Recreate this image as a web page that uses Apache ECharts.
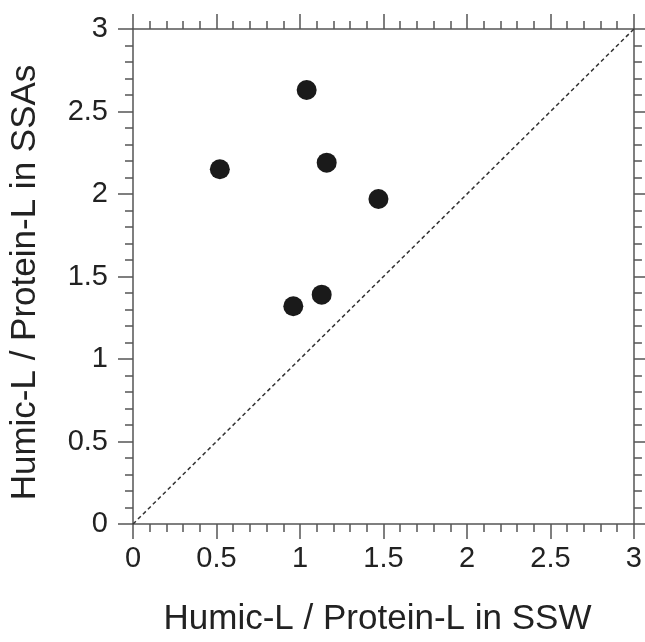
<!DOCTYPE html>
<html>
<head>
<meta charset="utf-8">
<script src="https://cdn.jsdelivr.net/npm/echarts@6/dist/echarts.min.js"></script>
<style>
  html, body { margin: 0; padding: 0; background: #fff; }
  #chart { width: 645px; height: 642px; }
</style>
</head>
<body>
<div id="chart"></div>
<script>
var ssw = [1.04, 0.52, 1.16, 1.47, 1.13, 0.96];
var ssa = [2.63, 2.15, 2.19, 1.97, 1.39, 1.32];
var oneToOne = [[0, 0], [3, 3]];
var xTitle = 'Humic-L / Protein-L in SSW';
var yTitle = 'Humic-L / Protein-L in SSAs';

var points = ssw.map(function(x, i) { return [x, ssa[i]]; });

var chart = echarts.init(document.getElementById('chart'));

var font = 'Liberation Sans, Arial, sans-serif';
var axisColor = '#555';

function axis(pos, withLabels, title, gap, rotate) {
    return {
        type: 'value',
        position: pos,
        min: 0,
        max: 3,
        interval: 0.5,
        name: title || '',
        nameLocation: 'middle',
        nameGap: gap || 0,
        nameRotate: rotate,
        // extra right padding nudges the title a little off-centre, as in the original
        nameTextStyle: { fontFamily: font, fontSize: 35, color: '#222', padding: [0, 12, 0, 0] },
        axisLine: { show: true, onZero: false, lineStyle: { color: axisColor, width: 1.5 } },
        axisTick: { show: true, inside: false, length: 15, lineStyle: { color: axisColor, width: 1.5 } },
        minorTick: { show: true, splitNumber: 5, length: 8, lineStyle: { color: axisColor, width: 1.5 } },
        axisLabel: {
            show: withLabels,
            fontFamily: font,
            fontSize: 29,
            color: '#222',
            margin: pos === 'bottom' ? 20 : 25
        },
        splitLine: { show: false }
    };
}

var option = {
    animation: false,
    grid: { left: 133, top: 29, width: 501, height: 501 },
    xAxis: [
        axis('bottom', true, xTitle, 78),
        axis('top', false)
    ],
    yAxis: [
        axis('left', true, yTitle, 90, 90),
        axis('right', false)
    ],
    series: [
        {
            type: 'line',
            data: oneToOne,
            symbol: 'none',
            lineStyle: { color: '#333', width: 1.5, type: [4, 3] },
            silent: true
        },
        {
            type: 'scatter',
            data: points,
            symbol: 'circle',
            symbolSize: 20,
            itemStyle: { color: '#1a1a1a', opacity: 1 }
        }
    ]
};

chart.setOption(option);
</script>
</body>
</html>
